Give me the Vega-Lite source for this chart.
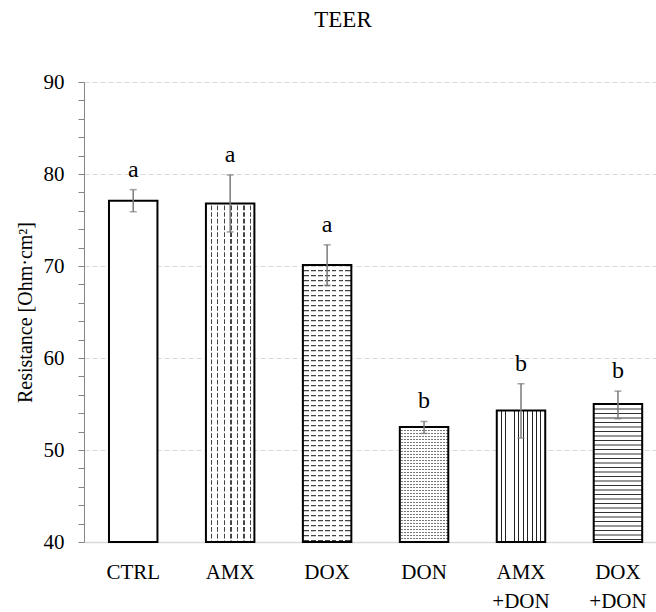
{
  "$schema": "https://vega.github.io/schema/vega-lite/v6.json",
  "width": 572,
  "height": 460,
  "autosize": {"type": "none"},
  "padding": {"left": 84, "top": 82, "right": 0, "bottom": 70},
  "background": "white",
  "title": {"text": "TEER", "font": "Liberation Serif", "fontSize": 23, "fontWeight": "normal", "color": "black", "anchor": "middle", "dx": -27, "offset": 39},
  "config": {"view": {"stroke": null}, "font": "Liberation Serif"},
  "data": {"values": [
    {"g": "CTRL", "mean": 77.1, "lo": 75.9, "hi": 78.3, "letter": "a"},
    {"g": "AMX", "mean": 76.8, "lo": 73.7, "hi": 79.9, "letter": "a"},
    {"g": "DOX", "mean": 70.1, "lo": 67.9, "hi": 72.3, "letter": "a"},
    {"g": "DON", "mean": 52.5, "lo": 51.8, "hi": 53.1, "letter": "b"},
    {"g": "AMX +DON", "mean": 54.3, "lo": 51.3, "hi": 57.2, "letter": "b"},
    {"g": "DOX +DON", "mean": 55.0, "lo": 53.4, "hi": 56.4, "letter": "b"}
  ]},
  "encoding": {
    "x": {
      "field": "g", "type": "nominal",
      "scale": {"domain": ["CTRL", "AMX", "DOX", "DON", "AMX +DON", "DOX +DON"], "paddingInner": 0.5, "paddingOuter": 0.2, "align": 0.644},
      "axis": {"title": null, "labelAngle": 0, "ticks": false, "domainColor": "#d9d9d9", "domainWidth": 1.5, "labelFontSize": 21, "labelColor": "black", "labelPadding": 19, "labelBaseline": "top", "labelExpr": "split(datum.label, ' ')", "labelLineHeight": 29}
    }
  },
  "layer": [
    {
      "mark": {"type": "bar", "fill": "white", "strokeWidth": 0},
      "encoding": {
        "y": {"field": "mean", "type": "quantitative", "scale": {"domain": [40, 90], "nice": false, "zero": false},
          "axis": {"title": "Resistance [Ohm·cm²]", "values": [40, 42, 44, 46, 48, 50, 52, 54, 56, 58, 60, 62, 64, 66, 68, 70, 72, 74, 76, 78, 80, 82, 84, 86, 88, 90], "tickCount": 60,
            "labelExpr": "datum.value % 10 === 0 ? datum.label : ''", "labelOverlap": false, "tickSize": 6, "tickColor": "#868686", "domainColor": "#868686",
            "labelFontSize": 21, "labelPadding": 14, "labelColor": "black", "titleFontSize": 20, "titleFontWeight": "normal", "titleColor": "black", "titlePadding": 8,
            "grid": true, "gridColor": "#d9d9d9", "gridDash": [5, 3],
            "gridOpacity": {"condition": {"test": "datum.value % 10 === 0 && datum.value > 40", "value": 1}, "value": 0}}},
        "y2": {"datum": 40}
      }
    },
    {
      "transform": [{"filter": "datum.g === 'AMX'"}],
      "mark": {"type": "bar", "strokeWidth": 0, "fill": {"gradient": "linear", "x1": 0, "y1": 0, "x2": 1, "y2": 0, "stops": [
        {"offset": 0, "color": "white"},
        {"offset": 0.097, "color": "white"}, {"offset": 0.097, "color": "#444"}, {"offset": 0.123, "color": "#444"}, {"offset": 0.123, "color": "white"},
        {"offset": 0.232, "color": "white"}, {"offset": 0.232, "color": "#444"}, {"offset": 0.258, "color": "#444"}, {"offset": 0.258, "color": "white"},
        {"offset": 0.367, "color": "white"}, {"offset": 0.367, "color": "#444"}, {"offset": 0.393, "color": "#444"}, {"offset": 0.393, "color": "white"},
        {"offset": 0.502, "color": "white"}, {"offset": 0.502, "color": "#444"}, {"offset": 0.528, "color": "#444"}, {"offset": 0.528, "color": "white"},
        {"offset": 0.637, "color": "white"}, {"offset": 0.637, "color": "#444"}, {"offset": 0.663, "color": "#444"}, {"offset": 0.663, "color": "white"},
        {"offset": 0.772, "color": "white"}, {"offset": 0.772, "color": "#444"}, {"offset": 0.798, "color": "#444"}, {"offset": 0.798, "color": "white"},
        {"offset": 0.907, "color": "white"}, {"offset": 0.907, "color": "#444"}, {"offset": 0.933, "color": "#444"}, {"offset": 0.933, "color": "white"},
        {"offset": 1, "color": "white"}]}},
      "encoding": {"y": {"field": "mean", "type": "quantitative"}, "y2": {"datum": 40}}
    },
    {
      "transform": [{"filter": "datum.g === 'AMX'"}],
      "mark": {"type": "rule", "color": "white", "strokeWidth": 48, "strokeDash": [2, 4.7], "strokeCap": "butt"},
      "encoding": {"y": {"field": "mean", "type": "quantitative"}, "y2": {"datum": 40}}
    },
    {
      "transform": [{"filter": "datum.g === 'DOX'"}],
      "mark": {"type": "rule", "color": "#444", "strokeWidth": 48, "strokeDash": [1.2, 3.8], "strokeCap": "butt"},
      "encoding": {"y": {"field": "mean", "type": "quantitative"}, "y2": {"datum": 40}}
    },
    {
      "transform": [{"filter": "datum.g === 'DOX'"}],
      "mark": {"type": "bar", "strokeWidth": 0, "fill": {"gradient": "linear", "x1": 0, "y1": 0, "x2": 1, "y2": 0, "stops": [
        {"offset": 0, "color": "rgba(255,255,255,0)"},
        {"offset": 0.122, "color": "rgba(255,255,255,0)"}, {"offset": 0.122, "color": "white"}, {"offset": 0.164, "color": "white"}, {"offset": 0.164, "color": "rgba(255,255,255,0)"},
        {"offset": 0.265, "color": "rgba(255,255,255,0)"}, {"offset": 0.265, "color": "white"}, {"offset": 0.307, "color": "white"}, {"offset": 0.307, "color": "rgba(255,255,255,0)"},
        {"offset": 0.408, "color": "rgba(255,255,255,0)"}, {"offset": 0.408, "color": "white"}, {"offset": 0.45, "color": "white"}, {"offset": 0.45, "color": "rgba(255,255,255,0)"},
        {"offset": 0.55, "color": "rgba(255,255,255,0)"}, {"offset": 0.55, "color": "white"}, {"offset": 0.592, "color": "white"}, {"offset": 0.592, "color": "rgba(255,255,255,0)"},
        {"offset": 0.693, "color": "rgba(255,255,255,0)"}, {"offset": 0.693, "color": "white"}, {"offset": 0.735, "color": "white"}, {"offset": 0.735, "color": "rgba(255,255,255,0)"},
        {"offset": 0.836, "color": "rgba(255,255,255,0)"}, {"offset": 0.836, "color": "white"}, {"offset": 0.878, "color": "white"}, {"offset": 0.878, "color": "rgba(255,255,255,0)"},
        {"offset": 1, "color": "rgba(255,255,255,0)"}]}},
      "encoding": {"y": {"field": "mean", "type": "quantitative"}, "y2": {"datum": 40}}
    },
    {
      "transform": [{"filter": "datum.g === 'DON'"}],
      "mark": {"type": "rule", "color": "#777", "strokeWidth": 48, "strokeDash": [1, 2], "strokeCap": "butt"},
      "encoding": {"y": {"field": "mean", "type": "quantitative"}, "y2": {"datum": 40}}
    },
    {
      "transform": [{"filter": "datum.g === 'DON'"}],
      "mark": {"type": "bar", "strokeWidth": 0, "fill": {"gradient": "linear", "x1": 0, "y1": 0, "x2": 1, "y2": 0, "stops": [
        {"offset": 0, "color": "white"}, {"offset": 0.021, "color": "white"}, {"offset": 0.021, "color": "rgba(255,255,255,0)"},
        {"offset": 0.0625, "color": "rgba(255,255,255,0)"}, {"offset": 0.0625, "color": "white"}, {"offset": 0.0835, "color": "white"}, {"offset": 0.0835, "color": "rgba(255,255,255,0)"},
        {"offset": 0.125, "color": "rgba(255,255,255,0)"}, {"offset": 0.125, "color": "white"}, {"offset": 0.146, "color": "white"}, {"offset": 0.146, "color": "rgba(255,255,255,0)"},
        {"offset": 0.1875, "color": "rgba(255,255,255,0)"}, {"offset": 0.1875, "color": "white"}, {"offset": 0.2085, "color": "white"}, {"offset": 0.2085, "color": "rgba(255,255,255,0)"},
        {"offset": 0.25, "color": "rgba(255,255,255,0)"}, {"offset": 0.25, "color": "white"}, {"offset": 0.271, "color": "white"}, {"offset": 0.271, "color": "rgba(255,255,255,0)"},
        {"offset": 0.3125, "color": "rgba(255,255,255,0)"}, {"offset": 0.3125, "color": "white"}, {"offset": 0.3335, "color": "white"}, {"offset": 0.3335, "color": "rgba(255,255,255,0)"},
        {"offset": 0.375, "color": "rgba(255,255,255,0)"}, {"offset": 0.375, "color": "white"}, {"offset": 0.396, "color": "white"}, {"offset": 0.396, "color": "rgba(255,255,255,0)"},
        {"offset": 0.4375, "color": "rgba(255,255,255,0)"}, {"offset": 0.4375, "color": "white"}, {"offset": 0.4585, "color": "white"}, {"offset": 0.4585, "color": "rgba(255,255,255,0)"},
        {"offset": 0.5, "color": "rgba(255,255,255,0)"}, {"offset": 0.5, "color": "white"}, {"offset": 0.521, "color": "white"}, {"offset": 0.521, "color": "rgba(255,255,255,0)"},
        {"offset": 0.5625, "color": "rgba(255,255,255,0)"}, {"offset": 0.5625, "color": "white"}, {"offset": 0.5835, "color": "white"}, {"offset": 0.5835, "color": "rgba(255,255,255,0)"},
        {"offset": 0.625, "color": "rgba(255,255,255,0)"}, {"offset": 0.625, "color": "white"}, {"offset": 0.646, "color": "white"}, {"offset": 0.646, "color": "rgba(255,255,255,0)"},
        {"offset": 0.6875, "color": "rgba(255,255,255,0)"}, {"offset": 0.6875, "color": "white"}, {"offset": 0.7085, "color": "white"}, {"offset": 0.7085, "color": "rgba(255,255,255,0)"},
        {"offset": 0.75, "color": "rgba(255,255,255,0)"}, {"offset": 0.75, "color": "white"}, {"offset": 0.771, "color": "white"}, {"offset": 0.771, "color": "rgba(255,255,255,0)"},
        {"offset": 0.8125, "color": "rgba(255,255,255,0)"}, {"offset": 0.8125, "color": "white"}, {"offset": 0.8335, "color": "white"}, {"offset": 0.8335, "color": "rgba(255,255,255,0)"},
        {"offset": 0.875, "color": "rgba(255,255,255,0)"}, {"offset": 0.875, "color": "white"}, {"offset": 0.896, "color": "white"}, {"offset": 0.896, "color": "rgba(255,255,255,0)"},
        {"offset": 0.9375, "color": "rgba(255,255,255,0)"}, {"offset": 0.9375, "color": "white"}, {"offset": 0.9585, "color": "white"}, {"offset": 0.9585, "color": "rgba(255,255,255,0)"},
        {"offset": 1, "color": "rgba(255,255,255,0)"}]}},
      "encoding": {"y": {"field": "mean", "type": "quantitative"}, "y2": {"datum": 40}}
    },
    {
      "transform": [{"filter": "datum.g === 'AMX +DON'"}],
      "mark": {"type": "bar", "strokeWidth": 0, "fill": {"gradient": "linear", "x1": 0, "y1": 0, "x2": 1, "y2": 0, "stops": [
        {"offset": 0, "color": "white"},
        {"offset": 0.081, "color": "white"}, {"offset": 0.081, "color": "#222"}, {"offset": 0.101, "color": "#222"}, {"offset": 0.101, "color": "white"},
        {"offset": 0.172, "color": "white"}, {"offset": 0.172, "color": "#222"}, {"offset": 0.192, "color": "#222"}, {"offset": 0.192, "color": "white"},
        {"offset": 0.263, "color": "white"}, {"offset": 0.263, "color": "#222"}, {"offset": 0.283, "color": "#222"}, {"offset": 0.283, "color": "white"},
        {"offset": 0.354, "color": "white"}, {"offset": 0.354, "color": "#222"}, {"offset": 0.374, "color": "#222"}, {"offset": 0.374, "color": "white"},
        {"offset": 0.445, "color": "white"}, {"offset": 0.445, "color": "#222"}, {"offset": 0.465, "color": "#222"}, {"offset": 0.465, "color": "white"},
        {"offset": 0.536, "color": "white"}, {"offset": 0.536, "color": "#222"}, {"offset": 0.556, "color": "#222"}, {"offset": 0.556, "color": "white"},
        {"offset": 0.627, "color": "white"}, {"offset": 0.627, "color": "#222"}, {"offset": 0.647, "color": "#222"}, {"offset": 0.647, "color": "white"},
        {"offset": 0.718, "color": "white"}, {"offset": 0.718, "color": "#222"}, {"offset": 0.738, "color": "#222"}, {"offset": 0.738, "color": "white"},
        {"offset": 0.809, "color": "white"}, {"offset": 0.809, "color": "#222"}, {"offset": 0.829, "color": "#222"}, {"offset": 0.829, "color": "white"},
        {"offset": 0.9, "color": "white"}, {"offset": 0.9, "color": "#222"}, {"offset": 0.92, "color": "#222"}, {"offset": 0.92, "color": "white"},
        {"offset": 1, "color": "white"}]}},
      "encoding": {"y": {"field": "mean", "type": "quantitative"}, "y2": {"datum": 40}}
    },
    {
      "transform": [{"filter": "datum.g === 'DOX +DON'"}],
      "mark": {"type": "rule", "color": "#333", "strokeWidth": 48, "strokeDash": [1, 3.5], "strokeCap": "butt"},
      "encoding": {"y": {"field": "mean", "type": "quantitative"}, "y2": {"datum": 40}}
    },
    {
      "mark": {"type": "bar", "fillOpacity": 0, "stroke": "black", "strokeWidth": 2},
      "encoding": {"y": {"field": "mean", "type": "quantitative"}, "y2": {"datum": 40}}
    },
    {
      "mark": {"type": "rule", "color": "#7a7a7a", "strokeWidth": 1.5},
      "encoding": {"y": {"field": "lo", "type": "quantitative"}, "y2": {"field": "hi"}}
    },
    {
      "mark": {"type": "tick", "color": "#7a7a7a", "size": 7, "thickness": 1.5},
      "encoding": {"y": {"field": "lo", "type": "quantitative"}}
    },
    {
      "mark": {"type": "tick", "color": "#7a7a7a", "size": 7, "thickness": 1.5},
      "encoding": {"y": {"field": "hi", "type": "quantitative"}}
    },
    {
      "mark": {"type": "text", "fontSize": 24, "color": "black", "baseline": "alphabetic", "dy": -13, "font": "Liberation Serif"},
      "encoding": {"y": {"field": "hi", "type": "quantitative"}, "text": {"field": "letter"}}
    }
  ]
}
